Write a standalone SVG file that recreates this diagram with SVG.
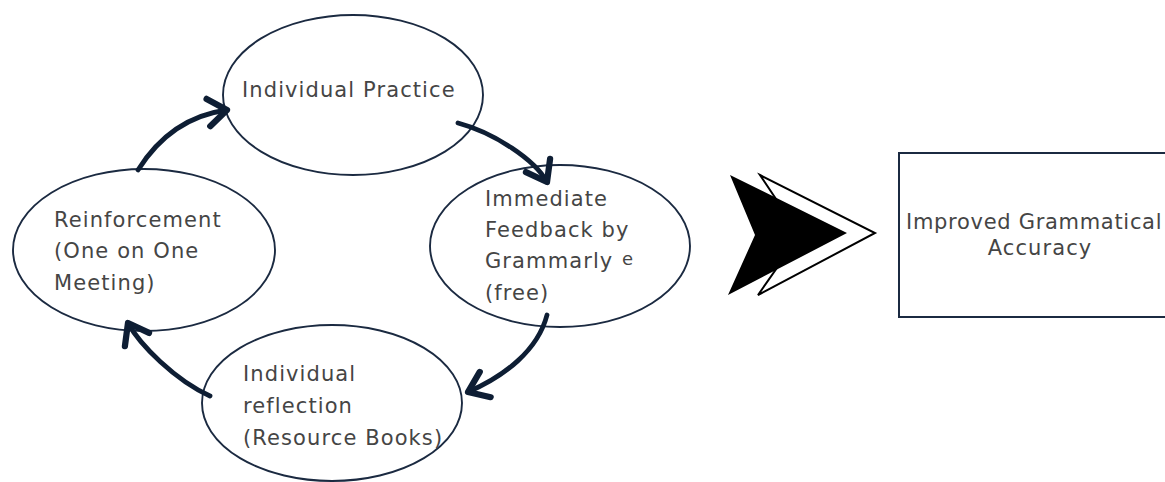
<svg xmlns="http://www.w3.org/2000/svg" width="1165" height="482" viewBox="0 0 1165 482">
  <style>
    .node { fill: #ffffff; stroke: #1b2a41; stroke-width: 1.9; }
    .label { font-family: "DejaVu Sans", "Noto Sans", sans-serif; font-size: 21px; fill: #454545; letter-spacing: 1.1px; }
    .flow { fill: none; stroke: #0e1e34; stroke-width: 4.8; stroke-linecap: round; marker-end: url(#head); }
  </style>
  <defs>
    <marker id="head" markerUnits="userSpaceOnUse" markerWidth="40" markerHeight="40" viewBox="-22 -16 26 32" refX="0" refY="0" orient="auto">
      <path d="M-15,-11 L0,0 L-15,11" fill="none" stroke="#0e1e34" stroke-width="5" stroke-linecap="round" stroke-linejoin="round"/>
    </marker>
  </defs>
  <rect width="1165" height="482" fill="#ffffff"/>

  <!-- cycle stages -->
  <g id="practice">
    <ellipse class="node" cx="353" cy="95" rx="130" ry="80"/>
    <text class="label" x="242" y="97">Individual Practice</text>
  </g>
  <g id="feedback">
    <ellipse class="node" cx="560" cy="246" rx="130" ry="81"/>
    <text class="label" x="485" y="206">Immediate</text>
    <text class="label" x="485" y="237">Feedback by</text>
    <text class="label" x="485" y="268">Grammarly</text>
    <text class="label" x="622" y="265" style="font-size:18px">e</text>
    <text class="label" x="485" y="300">(free)</text>
  </g>
  <g id="reflection">
    <ellipse class="node" cx="332" cy="403" rx="130" ry="78"/>
    <text class="label" x="243" y="381">Individual</text>
    <text class="label" x="243" y="413">reflection</text>
    <text class="label" x="243" y="445">(Resource Books)</text>
  </g>
  <g id="reinforcement">
    <ellipse class="node" cx="144" cy="250" rx="131" ry="81"/>
    <text class="label" x="54" y="227">Reinforcement</text>
    <text class="label" x="54" y="258">(One on One</text>
    <text class="label" x="54" y="290">Meeting)</text>
  </g>

  <!-- cycle arrows -->
  <g id="connectors">
    <path class="flow" d="M138,170 C160,135 190,115 227,110"/>
    <path class="flow" d="M458,123 C495,133 535,160 547,182"/>
    <path class="flow" d="M547,315 C538,350 505,376 468,392"/>
    <path class="flow" d="M210,396 C175,380 140,345 128,323"/>
  </g>

  <!-- leads to -->
  <g id="chevron">
    <path d="M760,175 L875,233 L758,295 L800,235 Z" fill="#ffffff" stroke="#000000" stroke-width="2" stroke-linejoin="miter"/>
    <path d="M730,175 L847,233 L728,295 L755,235 Z" fill="#000000"/>
  </g>

  <g id="outcome">
    <rect x="899" y="153" width="290" height="164" fill="#ffffff" stroke="#1b2a41" stroke-width="2"/>
    <text class="label" x="906" y="229" style="letter-spacing:0.7px">Improved Grammatical</text>
    <text class="label" x="1040" y="255" text-anchor="middle">Accuracy</text>
  </g>
</svg>
